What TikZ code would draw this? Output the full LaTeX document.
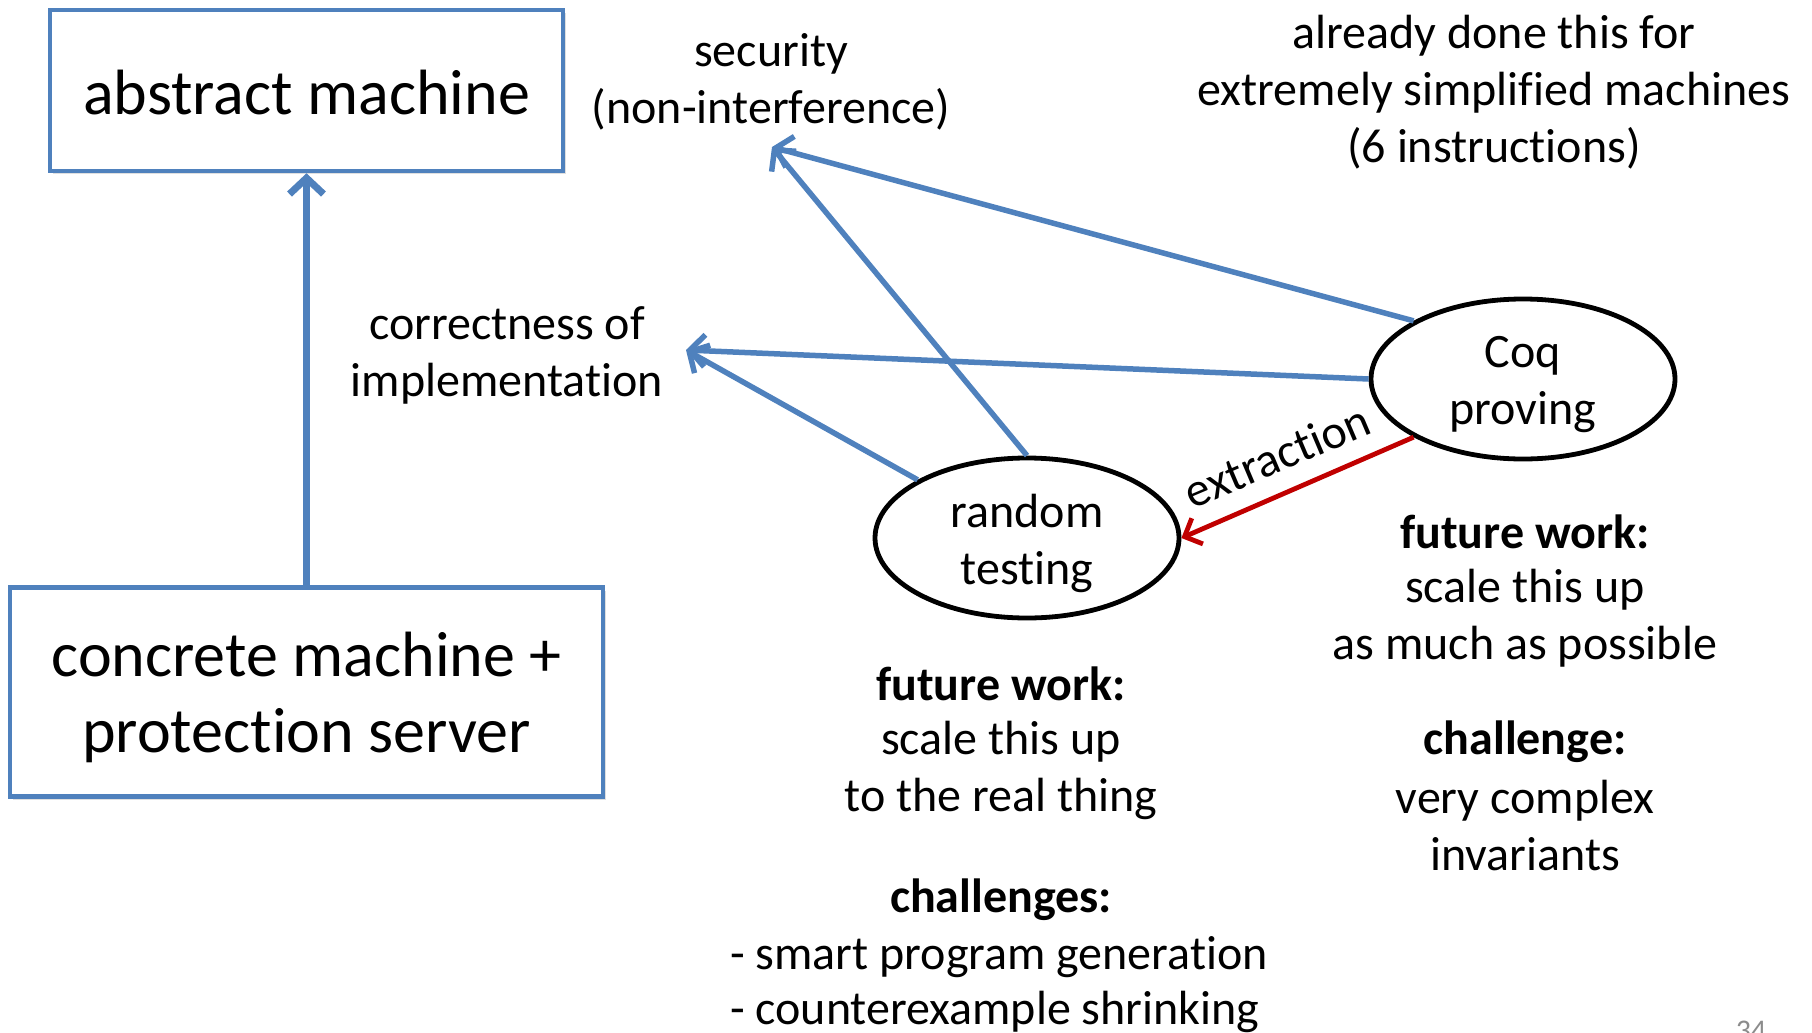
\documentclass[tikz,border=0pt]{standalone}
\usepackage{fontspec}
\setmainfont[Ligatures=NoCommon,RawFeature={-liga;-clig}]{Carlito}
\usetikzlibrary{arrows.meta,shapes.geometric,shadows}
\definecolor{blu}{HTML}{4F81BD}
\definecolor{dred}{HTML}{C00000}
\definecolor{pgnum}{HTML}{8C8C8C}
\begin{document}
\begin{tikzpicture}[x=1pt,y=-1pt,
  box/.style={draw=blu,line width=4.5pt,fill=white,inner sep=0pt,
    drop shadow={opacity=0.25,shadow xshift=3pt,shadow yshift=-3pt}},
  boxtext/.style={align=center,inner sep=0pt,font=\fontsize{64}{76}\selectfont},
  oval/.style={ellipse,draw=black,line width=4.8pt,minimum width=304pt,minimum height=160pt,
    inner sep=0pt},
  lbl/.style={align=center,inner sep=0pt,font=\fontsize{48}{57}\selectfont},
  lblb/.style={lbl,font=\fontsize{48}{57}\selectfont\bfseries},
  barrow/.style={draw=blu,line width=5.5pt,-{Straight Barb[length=15pt,width=32pt]}},
  varrow/.style={draw=blu,line width=7pt,-{Straight Barb[length=16pt,width=34pt]}},
  rarrow/.style={draw=dred,line width=4.8pt,-{Straight Barb[length=14pt,width=28pt]}}]
\useasboundingbox (0,0) rectangle (1812,1033);
\clip (0,0) rectangle (1812,1033);

% boxes
\node[box,minimum width=513pt,minimum height=161pt] (abs) at (306.5,90.5) {};
\node[boxtext] (abst) at (306.5,93) {abstract machine};
\node[box,minimum width=593pt,minimum height=209pt] (conc) at (306.5,692) {};
\node[boxtext] (conct) at (306.5,697) {concrete machine +\\protection server};
\draw[varrow] (conc.north) -- (abs.south);

% labels
\node[lbl] (sec) at (771,82) {security\\(non-interference)};
\node[lbl] (done) at (1494,92) {already done this for\\extremely simplified machines\\(6 instructions)};
\node[lbl] (corr) at (507,355) {correctness of\\implementation};
\coordinate (secpt) at (772,147);
\coordinate (corrpt) at (686,350);

% ellipses
\node[oval] (coq) at (1523,379) {};
\node[lbl] (coqt) at (1523,385) {Coq\\proving};
\node[oval] (rt) at (1027,538) {};
\node[lbl] (rtt) at (1027,543) {random\\testing};

% connectors
\draw[barrow] (coq.152) -- (secpt);
\draw[barrow] (rt.north) -- (secpt);
\draw[barrow] (coq.west) -- (corrpt);
\draw[barrow] (rt.152) -- (corrpt);
\draw[rarrow] (coq.208) -- (rt.east);
\node[lbl,rotate=23] (ext) at (1277,456) {extraction};

% notes under random testing
\node[lblb] (fw1) at (1001,684) {future work:};
\node[lbl] (fw1t) at (1001,770) {scale this up\\to the real thing};
\node[lblb] (ch1) at (1001,900) {challenges:};
\node[lbl,anchor=west] (ch1a) at (730,957) {- smart program generation};
\node[lbl,anchor=west] (ch1b) at (730,1012) {- counterexample shrinking};

% notes under Coq
\node[lblb] (fw2) at (1525,532) {future work:};
\node[lbl] (fw2t) at (1525,618) {scale this up\\as much as possible};
\node[lblb] (ch2) at (1525,742) {challenge:};
\node[lbl] (ch2t) at (1525,826) {very complex\\invariants};

% page number
\node[anchor=base,inner sep=0pt,text=pgnum,font=\fontsize{30}{36}\selectfont] (pg) at (1751,1040) {34};
\end{tikzpicture}
\end{document}
